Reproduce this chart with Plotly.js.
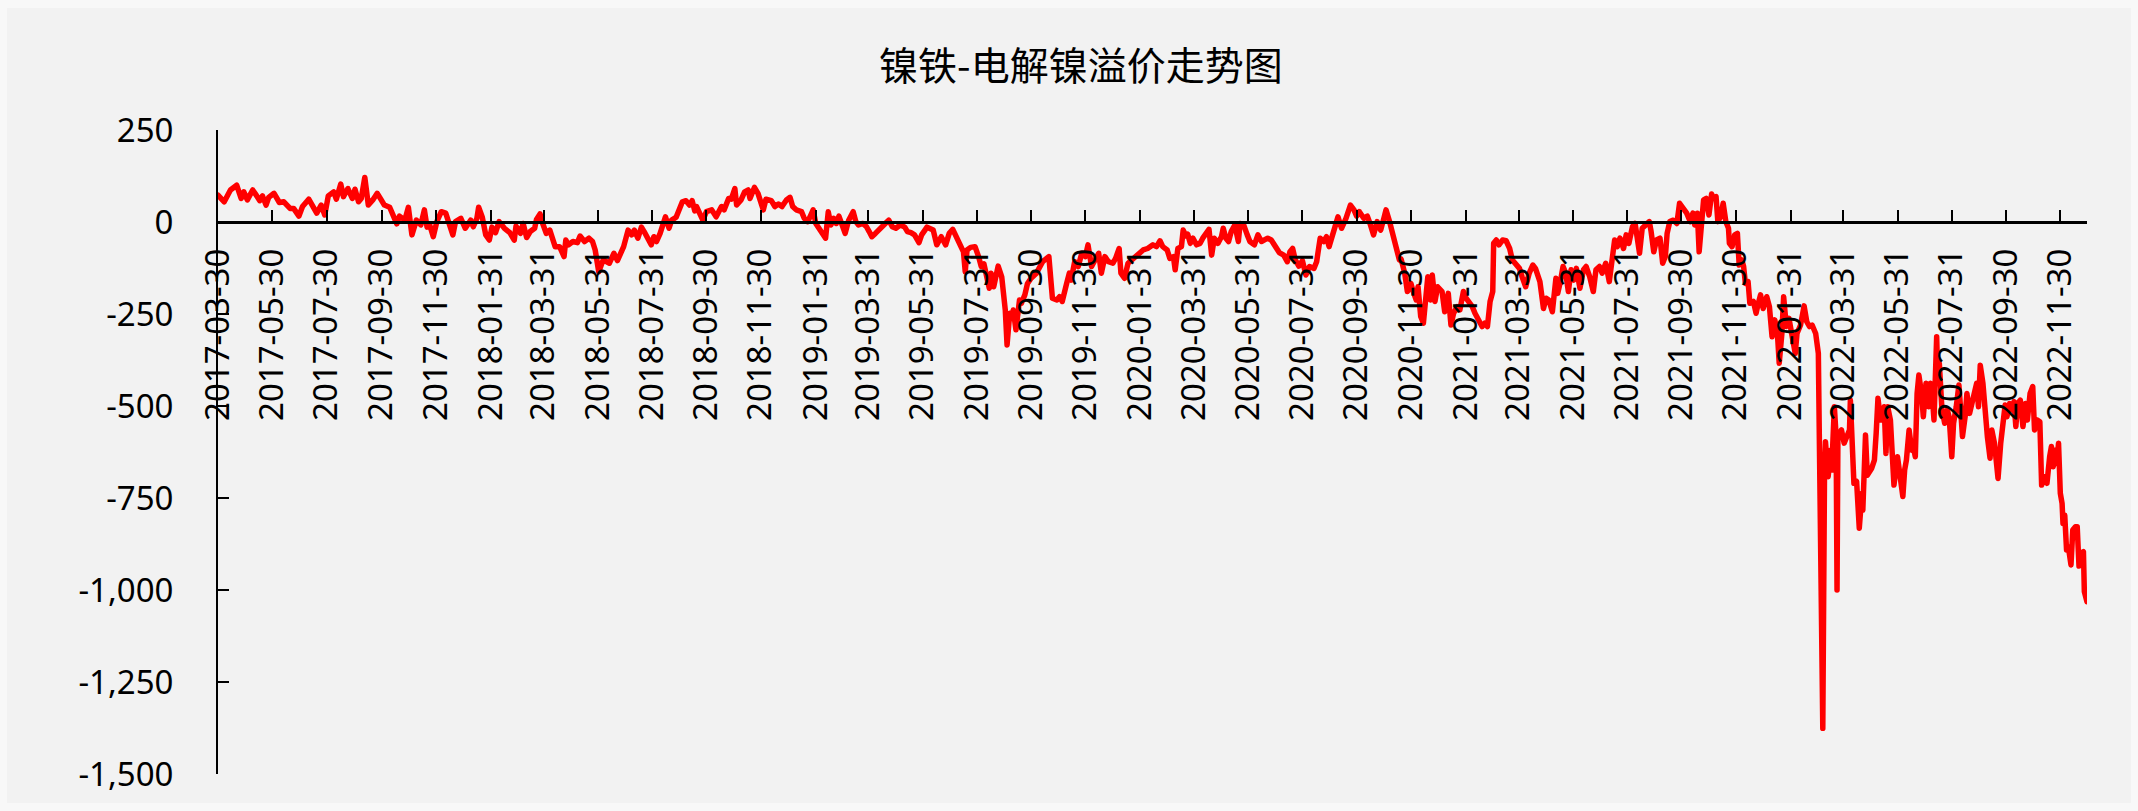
<!DOCTYPE html>
<html>
<head>
<meta charset="utf-8">
<script src="https://cdn.plot.ly/plotly-3.0.1.min.js"></script>
<style>
  html, body { margin: 0; padding: 0; background: #f8f8f8; }
  #chart { position: absolute; left: 7px; top: 8px; width: 2124px; height: 795px; }
  .js-line { stroke-linejoin: round; stroke-linecap: round; }
</style>
</head>
<body>
<div id="chart"></div>
<script>
// 镍铁-电解镍溢价 (元/镍点), daily readings grouped by year: month-day and value
const md2017 = [
  '03-30',
  '04-06','04-13','04-20','04-25','04-28',
  '05-02','05-08','05-12','05-16','05-19','05-23','05-26',
  '06-01','06-07','06-12','06-19','06-23','06-29',
  '07-03','07-10','07-14','07-19','07-24','07-28',
  '08-01','08-07','08-10','08-15','08-18','08-23','08-28','08-31',
  '09-04','09-07','09-11','09-15','09-20','09-25','09-29',
  '10-03','10-09','10-13','10-17','10-20','10-26','10-30',
  '11-03','11-08','11-13','11-17','11-20','11-23','11-27',
  '12-01','12-06','12-11','12-14','12-19','12-22','12-28'
];
const v2017 = [
  73,
  55, 87, 100, 64, 82,
  60, 87, 73, 58, 71, 46, 67,
  78, 53, 55, 37, 37, 16,
  42, 62, 42, 24, 46, 19,
  71, 82, 62, 103, 69, 91, 64, 89,
  55, 64, 121, 46, 60, 78, 62,
  46, 40, 19, -5, 16, 5, 40,
  -35, 5, -8, 33, -14, -8, -40,
  1, 28, 24, 5, -35, 1, 10
];

const md2018 = [
  '01-02','01-05','01-08','01-11','01-15','01-17','01-21','01-25','01-29',
  '02-01','02-05','02-09','02-15','02-21','02-26','02-28',
  '03-05','03-08','03-12','03-16','03-21','03-23','03-27','03-30',
  '04-03','04-07','04-10','04-13','04-18','04-23','04-25','04-28',
  '05-03','05-08','05-11','05-16','05-21','05-25','05-28',
  '06-01','06-06','06-13','06-18','06-22','06-29',
  '07-04','07-08','07-11','07-15','07-19','07-22','07-26','07-30',
  '08-02','08-05','08-09','08-15','08-19','08-22','08-27','08-31',
  '09-03','09-07','09-11','09-14','09-17','09-19','09-26','09-30',
  '10-06','10-11','10-17','10-20','10-25','10-28',
  '11-01','11-03','11-08','11-12','11-16','11-18','11-23','11-27',
  '12-01','12-03','12-06','12-12','12-16','12-20','12-24','12-29'
];
const v2018 = [
  -17, -4, 5, -13, 10, 40, 14, -35, -49,
  -14, -29, 1, -17, -29, -49, -11,
  -31, -4, -42, -26, -17, 7, 22, -4,
  -31, -22, -44, -67, -67, -94, -49, -62,
  -53, -56, -38, -53, -44, -53, -76,
  -135, -103, -112, -85, -105, -67,
  -22, -35, -22, -44, -14, -26, -47, -62,
  -40, -53, -31, 14, -17, 5, 13, 37,
  55, 58, 46, 58, 30, 42, 5, 28,
  33, 14, 42, 33, 64, 62,
  91, 46, 60, 82, 87, 64, 94, 78,
  51, 33, 62, 58, 42, 49, 42, 60
];

const md2019 = [
  '01-02','01-05','01-09','01-15','01-18','01-22','01-26','01-28','01-31',
  '02-06','02-11','02-14','02-17','02-20','02-23','02-26',
  '03-02','03-05','03-09','03-14','03-17','03-20','03-25','03-29',
  '04-01','04-04','04-08','04-13','04-16','04-20','04-23','04-27',
  '05-01','05-06','05-11','05-14','05-18','05-22','05-27','05-30',
  '06-05','06-12','06-16','06-21','06-26','06-30',
  '07-04','07-09','07-13','07-16','07-18','07-20','07-24','07-29',
  '08-02','08-05','08-08','08-11','08-14','08-16','08-19','08-24','08-28',
  '09-01','09-03','09-06','09-08','09-10','09-13','09-17','09-19','09-23','09-26','09-30',
  '10-06','10-13','10-17','10-20','10-24','10-29',
  '11-01','11-04','11-09','11-12','11-14','11-18','11-22','11-26','11-30',
  '12-03','12-07','12-11','12-15','12-18','12-22','12-26','12-31'
];
const v2019 = [
  67, 42, 33, 28, 10, 1, 22, 33, -4,
  -26, -44, 28, -8, 10, -4, 16,
  -8, -31, 5, 28, 1, -8, -4, -13,
  -26, -40, -31, -17, -8, -2, 5, -13,
  -17, -8, -14, -26, -29, -35, -56, -35,
  -14, -22, -62, -40, -62, -31,
  -20, -44, -62, -81, -135, -76, -69, -67,
  -94, -121, -114, -149, -180, -139, -176, -120, -149,
  -239, -334, -248, -262, -239, -293, -212, -221, -198, -167, -153,
  -139, -108, -99, -94, -207, -212,
  -203, -216, -167, -139, -158, -108, -121, -85, -94,
  -62, -121, -99, -85, -139, -94, -108, -112
];

const md2020 = [
  '01-03','01-07','01-09','01-13','01-17','01-23','01-28',
  '02-03','02-08','02-14','02-18','02-22','02-25',
  '03-01','03-04','03-08','03-10','03-13','03-17','03-19','03-22','03-24','03-27','03-30',
  '04-03','04-07','04-10','04-14','04-17','04-20','04-23','04-27',
  '05-01','05-03','05-06','05-09','05-12','05-16','05-20','05-22','05-26','05-30',
  '06-02','06-07','06-11','06-15','06-18','06-22','06-26',
  '07-01','07-05','07-10','07-14','07-17','07-20','07-23','07-27','07-31',
  '08-04','08-08','08-13','08-16','08-20','08-24','08-27','08-30',
  '09-03','09-05','09-09','09-13','09-15','09-18','09-23','09-27','09-30',
  '10-03','10-08','10-12','10-15','10-19','10-23','10-27','10-31',
  '11-02','11-06','11-09','11-13','11-17','11-19','11-23','11-26','11-30',
  '12-02','12-06','12-08','12-11','12-14','12-17','12-19','12-22','12-24','12-27','12-30'
];
const v2020 = [
  -99, -72, -139, -153, -112, -99, -90,
  -76, -72, -62, -67, -51, -67,
  -76, -99, -94, -130, -72, -67, -22, -38, -33, -58, -44,
  -62, -58, -44, -31, -20, -90, -44, -58,
  -40, -17, -44, -53, -26, -8, -53, -4, -8, -35,
  -53, -62, -35, -53, -49, -44, -49,
  -67, -83, -90, -108, -81, -72, -103, -120, -105,
  -144, -121, -126, -108, -44, -53, -40, -67,
  -31, -13, 14, -17, -8, 10, 46, 33, 16,
  28, 10, 16, -4, -35, 1, -22, 14,
  33, 1, -31, -67, -103, -101, -139, -189, -167,
  -185, -212, -176, -257, -275, -194, -149, -212, -144, -216, -176
];

const md2021 = [
  '01-04','01-05','01-07','01-11','01-14','01-17','01-21','01-24','01-28','01-31',
  '02-03','02-07','02-10','02-14','02-18','02-21','02-24','02-27',
  '03-02','03-03','03-06','03-09','03-13','03-17','03-21','03-24','03-28',
  '04-01','04-04','04-08','04-12','04-16','04-19','04-24','04-28',
  '05-01','05-04','05-08','05-12','05-14','05-17','05-20','05-23','05-26','05-29',
  '06-01','06-04','06-08','06-12','06-15','06-19','06-23','06-26','06-30',
  '07-03','07-07','07-11','07-15','07-17','07-20','07-23','07-27','07-30',
  '08-02','08-04','08-06','08-09','08-11','08-14','08-17','08-21','08-25','08-27','08-30',
  '09-02','09-06','09-09','09-12','09-14','09-17','09-21','09-25','09-28',
  '10-01','10-06','10-10','10-13','10-15','10-18','10-20','10-23','10-25','10-28','10-31',
  '11-03','11-05','11-08','11-10','11-13','11-16','11-19','11-22','11-23','11-26','11-29',
  '12-02','12-04','12-07','12-09','12-11','12-14','12-16','12-20','12-23','12-25','12-28','12-31'
];
const v2021 = [
  -189, -221, -244, -194, -280, -248, -230, -239, -189, -207,
  -216, -230, -248, -266, -284, -275, -284, -216,
  -189, -58, -49, -62, -49, -51, -72, -103, -112,
  -126, -149, -176, -139, -117, -126, -162, -235,
  -207, -212, -244, -153, -194, -162, -121, -139, -189, -130,
  -158, -126, -180, -130, -121, -149, -189, -130, -121,
  -139, -112, -162, -94, -49, -67, -44, -72, -35,
  -58, -31, -13, -4, -31, -85, -17, -8, 1, -26, -81,
  -49, -44, -112, -94, -31, 1, 5, -4, 51,
  42, 24, 1, 24, -8, 24, -81, 5, 60, 64, 19,
  76, 64, 69, 1, 14, 51, 1, -17, -58, -67, -35,
  -31, -117, -103, -121, -167, -162, -221, -216, -248, -226, -198, -235
];

const md2022 = [
  '01-04','01-07','01-10','01-13','01-16','01-18','01-21','01-23','01-26','01-29',
  '02-01','02-05','02-07','02-11','02-15','02-18','02-21','02-24','02-28',
  '03-03','03-04','03-08','03-10','03-11','03-14','03-17','03-18','03-21','03-23','03-24','03-25','03-29',
  '04-01','04-04','04-07','04-08','04-11','04-12','04-15','04-18','04-21','04-22','04-25','04-27',
  '05-02','05-05','05-07','05-09','05-12','05-16','05-18','05-20','05-23','05-25','05-27','05-31',
  '06-02','06-06','06-08','06-10','06-13','06-16','06-17','06-20','06-22','06-24','06-27','06-29',
  '07-02','07-05','07-07','07-09','07-11','07-14','07-15','07-17','07-20','07-23','07-26','07-28','07-31',
  '08-02','08-05','08-08','08-10','08-12','08-15','08-17','08-20','08-23','08-25','08-28','08-30',
  '09-01','09-04','09-06','09-09','09-12','09-14','09-17','09-19','09-21','09-24','09-26','09-29',
  '10-01','10-04','10-06','10-09','10-11','10-13','10-16','10-19','10-22','10-24','10-27','10-30',
  '11-01','11-04','11-07','11-09','11-12','11-15','11-18','11-20','11-22','11-24','11-26','11-28','11-30',
  '12-02','12-03','12-05','12-07','12-09','12-12','12-14','12-17','12-19','12-21','12-23','12-26','12-27','12-30'
];
const v2022 = [
  -203, -230, -312, -266, -303, -384, -303, -203, -284, -262,
  -307, -357, -303, -280, -228, -271, -284, -280, -303,
  -357, -565, -1376, -656, -597, -692, -620, -674, -502, -583, -1000, -583, -565,
  -601, -583, -565, -484, -638, -710, -705, -832, -737, -783, -579, -688,
  -669, -647, -574, -479, -538, -502, -629, -502, -538, -624, -715, -638,
  -683, -746, -674, -647, -565, -620, -601, -638, -466, -416, -466, -529,
  -438, -502, -438, -470, -538, -312, -402, -384, -511, -547, -511, -529, -638,
  -547, -502, -443, -511, -583, -529, -466, -520, -493, -466, -438, -502,
  -389, -438, -511, -583, -642, -565, -601, -656, -697, -601, -547, -497,
  -529, -493, -511, -488, -556, -493, -484, -556, -493, -538, -466, -447,
  -565, -538, -543, -715, -692, -710, -638, -610, -665, -620, -656, -601, -737,
  -765, -819, -797, -891, -882, -932, -837, -828, -828, -935, -900, -896, -1004, -1032
];

// date-axis tick labels (every two months)
const tickDates = [
  '2017-03-30','2017-05-30','2017-07-30','2017-09-30','2017-11-30',
  '2018-01-31','2018-03-31','2018-05-31','2018-07-31','2018-09-30','2018-11-30',
  '2019-01-31','2019-03-31','2019-05-31','2019-07-31','2019-09-30','2019-11-30',
  '2020-01-31','2020-03-31','2020-05-31','2020-07-31','2020-09-30','2020-11-30',
  '2021-01-31','2021-03-31','2021-05-31','2021-07-31','2021-09-30','2021-11-30',
  '2022-01-31','2022-03-31','2022-05-31','2022-07-31','2022-09-30','2022-11-30'
];
const yTicks = [-1500, -1250, -1000, -750, -500, -250, 0, 250];

// assemble the full series
const years = [
  ['2017', md2017, v2017], ['2018', md2018, v2018], ['2019', md2019, v2019],
  ['2020', md2020, v2020], ['2021', md2021, v2021], ['2022', md2022, v2022]
];
const dates = [];
const premium = [];
years.forEach(([yr, md, vals]) => {
  md.forEach((d, i) => { dates.push(yr + '-' + d); premium.push(vals[i]); });
});

const yTickText = yTicks.map(v => v.toLocaleString('en-US'));
const tickFont = { family: 'Noto Sans, DejaVu Sans, sans-serif', size: 33, color: '#000000' };

const trace = {
  type: 'scatter',
  mode: 'lines',
  x: dates,
  y: premium,
  line: { color: '#ff0000', width: 5.5 },
  showlegend: false,
  hoverinfo: 'skip'
};

const layout = {
  width: 2124,
  height: 795,
  paper_bgcolor: '#f2f2f2',
  plot_bgcolor: '#f2f2f2',
  margin: { l: 211, r: 44, t: 122, b: 29 },
  title: {
    text: '镍铁-电解镍溢价走势图',
    font: { family: 'Noto Sans CJK SC, sans-serif', size: 39, color: '#000000' },
    xref: 'container', x: 0.5056, xanchor: 'center',
    yref: 'container', y: 0.927, yanchor: 'middle'
  },
  xaxis: {
    type: 'date',
    range: ['2017-03-30', '2022-12-30'],
    anchor: 'free',
    position: 1500 / 1750,
    showline: true, linecolor: '#000000', linewidth: 2.5,
    ticks: 'inside', ticklen: 11, tickwidth: 2, tickcolor: '#000000',
    tickvals: tickDates, ticktext: tickDates,
    tickangle: -90,
    tickfont: tickFont,
    ticklabelstandoff: 12,
    showgrid: false, zeroline: false, fixedrange: true
  },
  yaxis: {
    range: [-1500, 250],
    showline: true, linecolor: '#000000', linewidth: 2,
    ticks: 'inside', ticklen: 11, tickwidth: 2, tickcolor: '#000000',
    tickvals: yTicks, ticktext: yTickText,
    tickfont: tickFont,
    ticklabelstandoff: 36,
    showgrid: false, zeroline: false, fixedrange: true
  },
  hovermode: false
};

Plotly.newPlot('chart', [trace], layout, { staticPlot: true, displayModeBar: false });
</script>
</body>
</html>
